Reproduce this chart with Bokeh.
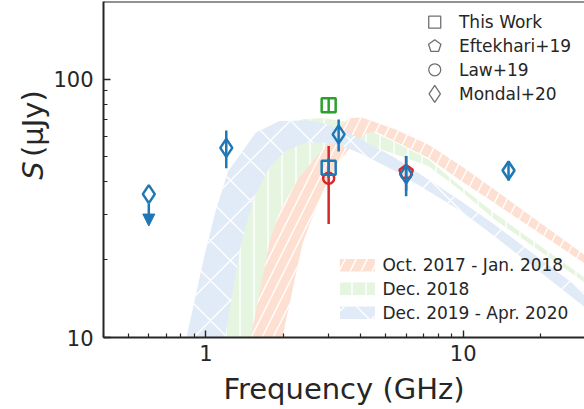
import math
from bokeh.plotting import figure
from bokeh.layouts import row
from bokeh.models import (Range1d, Span, Arrow, NormalHead, ColumnDataSource, FixedTicker)
from bokeh.core.properties import value
from bokeh.embed import file_html
from bokeh.resources import INLINE

# ---------------- data ----------------
# SED bands: upper (outer) and lower (inner) envelopes, frequency in GHz, flux in uJy
band_labels = ["Oct. 2017 - Jan. 2018", "Dec. 2018", "Dec. 2019 - Apr. 2020"]

salmon_up_f = [1.43, 1.76, 1.93, 2.30, 2.67, 3.09, 3.59, 4.04, 5.43, 7.31, 9.82, 13.2, 30.0]
salmon_up_s = [8.0, 23.0, 30.8, 41.5, 49.6, 59.3, 70.7, 71.0, 63.9, 55.9, 46.1, 37.4, 20.7]
salmon_lo_f = [1.89, 2.37, 2.71, 3.01, 3.38, 3.76, 4.22, 4.61, 5.43, 7.31, 9.82, 13.2, 30.0]
salmon_lo_s = [8.0, 23.0, 32.8, 41.4, 49.5, 56.5, 61.8, 62.4, 57.5, 49.6, 40.3, 33.2, 19.2]

green_up_f = [0.98, 1.16, 1.33, 1.59, 1.90, 2.37, 2.83, 3.53, 4.41, 5.43, 7.31, 9.82, 13.2, 30.0]
green_up_s = [8.0, 21.6, 35.3, 52.7, 63.9, 70.0, 70.7, 68.2, 62.9, 57.0, 49.0, 38.2, 30.3, 16.9]
green_lo_f = [1.63, 1.98, 2.27, 2.59, 3.00, 3.53, 4.04, 5.43, 7.31, 9.82, 13.2, 30.0]
green_lo_s = [8.0, 21.6, 35.3, 42.1, 51.3, 55.1, 56.5, 51.3, 46.1, 36.9, 28.7, 16.2]

blue_up_f = [0.80, 0.99, 1.09, 1.22, 1.39, 1.56, 1.93, 2.51, 3.00, 3.69, 4.04, 5.43, 7.31, 9.82, 13.2, 30.0]
blue_up_s = [8.0, 21.0, 30.8, 44.0, 52.7, 62.0, 68.8, 69.2, 66.8, 61.1, 58.1, 49.6, 40.9, 33.7, 27.4, 14.8]
blue_lo_f = [1.14, 1.37, 1.52, 1.76, 2.04, 2.44, 2.91, 3.38, 4.04, 5.43, 7.31, 9.82, 13.2, 30.0]
blue_lo_s = [8.0, 23.0, 33.7, 45.4, 52.7, 56.7, 56.7, 55.1, 51.3, 44.1, 36.9, 30.8, 24.7, 13.0]

# measurements
mondal_f = [0.6, 1.2, 3.28, 6.0, 15.0]
mondal_s = [35.9, 54.2, 61.1, 42.8, 44.3]
mondal_e = [0.0, 9.0, 8.6, 7.6, 3.9]
mondal_ul = [True, False, False, False, False]

thiswork_f = [3.0, 3.0]
thiswork_s = [79.3, 45.4]
thiswork_e = [5.5, 4.0]

law_f = [3.0]
law_s = [41.3]
law_e = [13.8]

eft_f = [6.0]
eft_s = [43.7]
eft_e = [6.7]

marker_labels = ["This Work", "Eftekhari+19", "Law+19", "Mondal+20"]

x_ticks = [1, 10]
y_ticks = [10, 100]

# ---------------- style ----------------
RED = "#d62728"
GREEN = "#2ca02c"
BLUE = "#1f77b4"
SALMON_FILL = "#fde0d2"
GREEN_FILL = "#e5f5e0"
BLUE_FILL = "#e0ebf7"
INK = "#262626"
GRAY = "#707070"
FONT = "DejaVu Sans"

X0, X1 = 0.4, 29.6
Y0, Y1 = 10.0, 199.7
LABW = 50                     # width of the y-label strip
W, H = 584 - LABW, 409
BL, BB, BT = 100 - LABW, 72, 1
FW, FH = W - BL, H - BB - BT

p = figure(width=W, height=H, x_axis_type="log", y_axis_type="log",
           x_range=Range1d(X0, X1), y_range=Range1d(Y0, Y1),
           output_backend="svg", toolbar_location=None,
           min_border_left=BL, min_border_right=0, min_border_top=BT, min_border_bottom=BB)
p.outline_line_color = None
p.xgrid.visible = False
p.ygrid.visible = False


def fx(px):
    """frame pixel (from frame left) -> data x"""
    return 10 ** (math.log10(X0) + px / FW * (math.log10(X1) - math.log10(X0)))


def fy(py):
    """frame pixel (from frame top) -> data y"""
    return 10 ** (math.log10(Y1) - py / FH * (math.log10(Y1) - math.log10(Y0)))


def band(up_f, up_s, lo_f, lo_s):
    return up_f + lo_f[::-1], up_s + lo_s[::-1]


HS_SALMON, HS_GREEN, HS_BLUE = 22, 14, 40
# bands: green under, salmon, blue on top
gx, gy = band(green_up_f, green_up_s, green_lo_f, green_lo_s)
p.patch(gx, gy, fill_color=GREEN_FILL, line_color=None,
        hatch_pattern="|", hatch_color="white", hatch_weight=1.4, hatch_scale=HS_GREEN)
sx, sy = band(salmon_up_f, salmon_up_s, salmon_lo_f, salmon_lo_s)
p.patch(sx, sy, fill_color=SALMON_FILL, line_color=None,
        hatch_pattern="/", hatch_color="white", hatch_weight=1.4, hatch_scale=HS_SALMON)
bx, by = band(blue_up_f, blue_up_s, blue_lo_f, blue_lo_s)
p.patch(bx, by, fill_color=BLUE_FILL, line_color=None,
        hatch_pattern="x", hatch_color="white", hatch_weight=1.4, hatch_scale=HS_BLUE)

LW = 2.5


def errbars(f, s, e, color):
    p.segment(x0=f, y0=[a - b for a, b in zip(s, e)], x1=f, y1=[a + b for a, b in zip(s, e)],
              line_color=color, line_width=LW)


# Law+19 (red circle)
errbars(law_f, law_s, law_e, RED)
p.scatter(law_f, law_s, marker="circle", size=11, fill_color=None, line_color=RED, line_width=LW)

# Eftekhari+19 (red pentagon)
errbars(eft_f, eft_s, eft_e, RED)
p.ngon(x=eft_f, y=eft_s, radius=7, radius_units="screen", n=5, angle=0,
       fill_color=None, line_color=RED, line_width=LW)

# This work (squares)
tw_colors = [GREEN, BLUE]
for f, s, e, c in zip(thiswork_f, thiswork_s, thiswork_e, tw_colors):
    errbars([f], [s], [e], c)
    p.scatter([f], [s], marker="square", size=14, fill_color=None, line_color=c, line_width=LW)

# Mondal+20 (blue diamonds)
det = [i for i, u in enumerate(mondal_ul) if not u]
ul = [i for i, u in enumerate(mondal_ul) if u]
errbars([mondal_f[i] for i in det], [mondal_s[i] for i in det], [mondal_e[i] for i in det], BLUE)
UL_START, UL_END = 0.92, 0.752
ul_src = ColumnDataSource(dict(x=[mondal_f[i] for i in ul],
                               ys=[mondal_s[i] * UL_START for i in ul],
                               ye=[mondal_s[i] * UL_END for i in ul]))
p.add_layout(Arrow(source=ul_src, x_start="x", y_start="ys", x_end="x", y_end="ye",
                   line_color=BLUE, line_width=LW,
                   end=NormalHead(size=12, fill_color=BLUE, line_color=BLUE, line_width=1)))
p.scatter(mondal_f, mondal_s, marker="diamond", size=18, fill_color=None,
          line_color=BLUE, line_width=LW)

# ---------------- axes ----------------
def minor(lo, hi):
    return [m * 10 ** k for k in range(-1, 3) for m in range(2, 10) if lo <= m * 10 ** k <= hi]


p.xaxis.ticker = FixedTicker(ticks=x_ticks, minor_ticks=minor(X0, X1))
p.yaxis.ticker = FixedTicker(ticks=y_ticks, minor_ticks=minor(Y0, Y1))
p.xaxis.major_label_overrides = {t: str(t) for t in x_ticks}
p.yaxis.major_label_overrides = {t: str(t) for t in y_ticks}
for ax in (p.xaxis[0], p.yaxis[0]):
    ax.axis_line_color = INK
    ax.axis_line_width = 2
    ax.major_tick_line_color = INK
    ax.minor_tick_line_color = INK
    ax.major_tick_line_width = 1.4
    ax.minor_tick_line_width = 1.2
    ax.major_tick_in = 7
    ax.major_tick_out = 0
    ax.minor_tick_in = 4
    ax.minor_tick_out = 0
    ax.major_label_text_font = FONT
    ax.major_label_text_font_size = "21px"
    ax.major_label_text_color = INK
p.xaxis.major_label_standoff = 7
p.yaxis.major_label_standoff = 10
p.xaxis.axis_label = "Frequency (GHz)"
p.xaxis.axis_label_text_font = FONT
p.xaxis.axis_label_text_font_size = "29px"
p.xaxis.axis_label_text_font_style = "normal"
p.xaxis.axis_label_text_color = INK
p.xaxis.axis_label_standoff = 8

p.add_layout(Span(location=Y1, dimension="width", line_color=INK, line_width=2))

# ---------------- legends (frame-pixel placement) ----------------
L1_X, L1_TX = 333.3, 357.7
L1_Y = [20.7, 44.7, 68.3, 92.3]
mx = fx(L1_X)
p.scatter([mx], [fy(L1_Y[0])], marker="square", size=12, fill_color=None, line_color=GRAY, line_width=1.3)
p.ngon(x=[mx], y=[fy(L1_Y[1])], radius=6.5, radius_units="screen", n=5, angle=0,
       fill_color=None, line_color=GRAY, line_width=1.3)
p.scatter([mx], [fy(L1_Y[2])], marker="circle", size=12, fill_color=None, line_color=GRAY, line_width=1.3)
p.scatter([mx], [fy(L1_Y[3])], marker="diamond", size=17, fill_color=None, line_color=GRAY, line_width=1.3)
p.text(x=[fx(L1_TX)] * 4, y=[fy(v) for v in L1_Y], text=marker_labels,
       text_font=value(FONT), text_font_size=value("17px"), text_baseline="middle",
       text_align="left", text_color=INK)

L2_X, L2_TX = 255.5, 280.7
L2_Y = [263.7, 287.3, 311.3]
fills = [SALMON_FILL, GREEN_FILL, BLUE_FILL]
hatches = ["/", "|", "x"]
scales = [HS_SALMON, HS_GREEN, HS_BLUE]
for yy, fc, hp, hs in zip(L2_Y, fills, hatches, scales):
    p.rect(x=[fx(L2_X)], y=[fy(yy)], width=35, height=12.5, width_units="screen",
           height_units="screen", fill_color=fc, line_color=None, hatch_pattern=hp,
           hatch_color="white", hatch_weight=1.4, hatch_scale=hs)
p.text(x=[fx(L2_TX)] * 3, y=[fy(v) for v in L2_Y], text=band_labels,
       text_font=value(FONT), text_font_size=value("17px"), text_baseline="middle",
       text_align="left", text_color=INK)

# ---------------- y-axis label strip (italic S + unit) ----------------
lab = figure(width=LABW, height=H, x_range=Range1d(0, LABW), y_range=Range1d(0, H),
             output_backend="svg", toolbar_location=None, min_border=0,
             x_axis_location=None, y_axis_location=None)
lab.outline_line_color = None
for g in lab.grid:
    g.visible = False
YL_BASE_X = 32.9
YL_S_Y, YL_U_Y = 192.0, 219.6
lab.text(x=[YL_BASE_X], y=[YL_S_Y], text=["S"], angle=math.pi / 2,
         text_font=value(FONT), text_font_style="italic", text_font_size=value("29px"),
         text_align="left", text_baseline="alphabetic", text_color=INK)
lab.text(x=[YL_BASE_X], y=[YL_U_Y], text=["(μJy)"], angle=math.pi / 2,
         text_font=value(FONT), text_font_size=value("29px"),
         text_align="left", text_baseline="alphabetic", text_color=INK)

layout = row(lab, p, spacing=0)
open("out.html", "w").write(file_html(layout, INLINE))
